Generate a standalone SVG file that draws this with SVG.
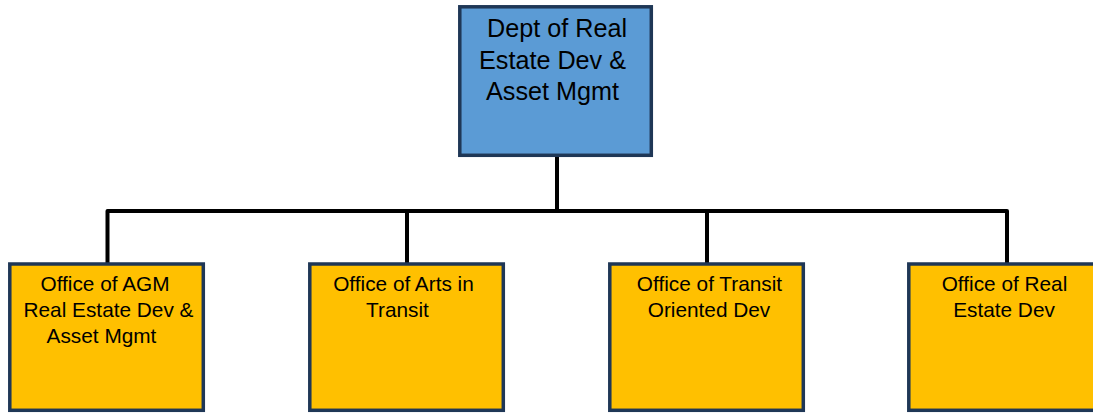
<svg xmlns="http://www.w3.org/2000/svg" width="1093" height="414" viewBox="0 0 1093 414">
<style>
.top{fill:#5B9BD5;stroke:#1F3756;stroke-width:3.5}
.box{fill:#FFC000;stroke:#1F3756;stroke-width:3.5}
.t1{font-family:"Liberation Sans",Arial,sans-serif;font-size:25.2px;fill:#000;text-anchor:middle}
.t2{font-family:"Liberation Sans",Arial,sans-serif;font-size:20.8px;fill:#000;text-anchor:middle}
.conn{fill:none;stroke:#000;stroke-width:4;stroke-linejoin:round}
</style>
<rect width="1093" height="414" fill="#fff"/>
<g id="connectors">
<path class="conn" d="M557 157 V211"/>
<path class="conn" d="M107.5 263 V211 H1007 V263"/>
<path class="conn" d="M407 263 V211"/>
<path class="conn" d="M707 263 V211"/>
</g>
<g id="dept">
<rect class="top" x="459.8" y="6.8" width="191.5" height="148.5"/>
<text class="t1" x="557" y="37">Dept of Real</text>
<text class="t1" x="552.5" y="69">Estate Dev &amp;</text>
<text class="t1" x="552.5" y="100">Asset Mgmt</text>
</g>
<g id="agm">
<rect class="box" x="9.8" y="264" width="193.5" height="146.3"/>
<text class="t2" x="105" y="291">Office of AGM</text>
<text class="t2" x="108.5" y="317">Real Estate Dev &amp;</text>
<text class="t2" x="101.5" y="343">Asset Mgmt</text>
</g>
<g id="arts">
<rect class="box" x="309.8" y="264" width="193.5" height="146.3"/>
<text class="t2" x="403.5" y="291">Office of Arts in</text>
<text class="t2" x="397.5" y="317">Transit</text>
</g>
<g id="tod">
<rect class="box" x="609.8" y="264" width="193.5" height="146.3"/>
<text class="t2" x="709.5" y="291">Office of Transit</text>
<text class="t2" x="709" y="317">Oriented Dev</text>
</g>
<g id="realestate">
<rect class="box" x="908.8" y="264" width="193.5" height="146.3"/>
<text class="t2" x="1004.5" y="291">Office of Real</text>
<text class="t2" x="1004" y="317">Estate Dev</text>
</g>
</svg>
